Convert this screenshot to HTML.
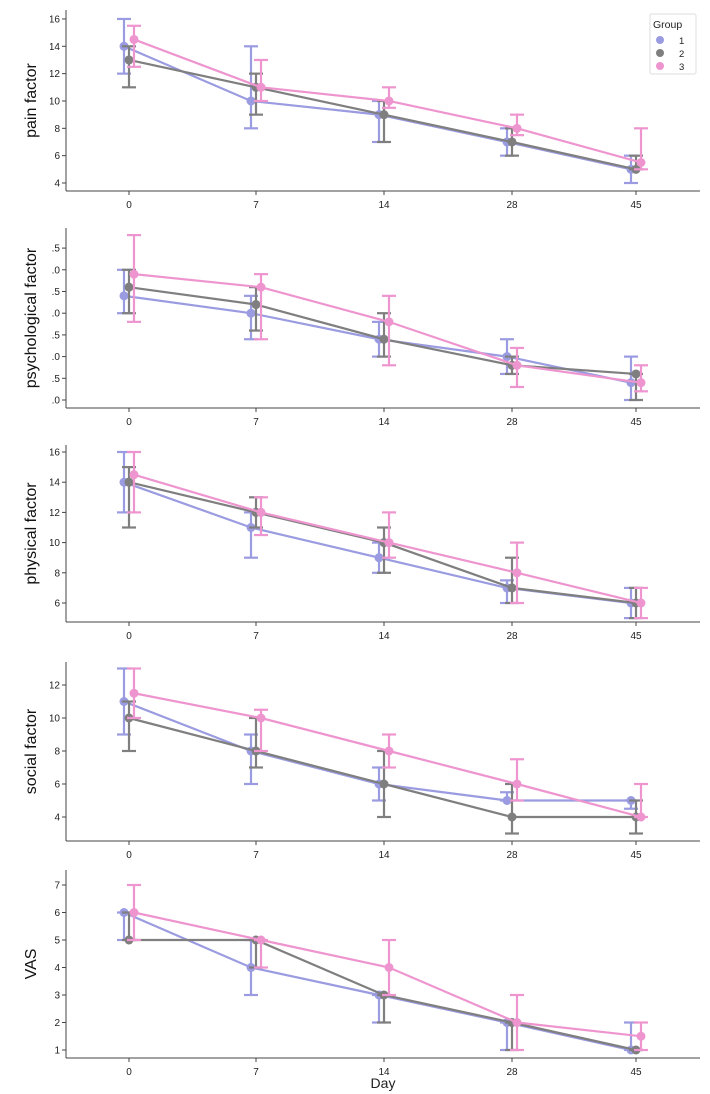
<!DOCTYPE html>
<html><head><meta charset="utf-8"><style>body{margin:0;background:#fff}svg{display:block}</style></head>
<body>
<svg id="s" width="710" height="1094" xmlns="http://www.w3.org/2000/svg" font-family="Liberation Sans, DejaVu Sans, sans-serif">
<defs><clipPath id="c"><rect x="50" y="0" width="660" height="1094"/></clipPath></defs>
<g id="g"></g>
<text x="383" y="1088" font-size="14" text-anchor="middle" fill="#222">Day</text>
<g transform="translate(650,14)">
<rect x="0" y="0" width="46" height="60" fill="#fff" stroke="#ddd" rx="2"/>
<text x="3" y="14" font-size="10.5" fill="#222">Group</text>
<circle cx="10" cy="26" r="4" fill="#9a9be0"/><text x="29" y="30" font-size="9.5" fill="#222">1</text>
<circle cx="10" cy="39" r="4" fill="#7f7f7f"/><text x="29" y="43" font-size="9.5" fill="#222">2</text>
<circle cx="10" cy="52" r="4" fill="#ee95cf"/><text x="29" y="56" font-size="9.5" fill="#222">3</text>
</g>
</svg>
<script>
var X=[129,256,384,512,636],C=["#9a9be0","#7f7f7f","#ee95cf"],D=[-5,0,5];
var P=[
{lab:"pain factor",top:10,bot:191,y0:183,v0:4,k:13.67,ticks:[[4,"4"],[6,"6"],[8,"8"],[10,"10"],[12,"12"],[14,"14"],[16,"16"]],
d:[[[14,12,16],[10,8,14],[9,7,10],[7,6,8],[5,4,6]],[[13,11,14],[11,9,12],[9,7,10],[7,6,8],[5,5,6]],[[14.5,12.5,15.5],[11,10,13],[10,9.5,11],[8,7.5,9],[5.5,5,8]]]},
{lab:"psychological factor",top:228,bot:408,y0:400,v0:0,k:43.4,ticks:[[0,".0"],[0.5,".5"],[1,".0"],[1.5,".5"],[2,".0"],[2.5,".5"],[3,".0"],[3.5,".5"]],
d:[[[2.4,2,3],[2,1.4,2.4],[1.4,1,1.8],[1,0.6,1.4],[0.4,0,1]],[[2.6,2,3],[2.2,1.6,2.6],[1.4,1,2],[0.8,0.6,1],[0.6,0,0.6]],[[2.9,1.8,3.8],[2.6,1.4,2.9],[1.8,0.8,2.4],[0.8,0.3,1.2],[0.4,0.2,0.8]]]},
{lab:"physical factor",top:445,bot:622,y0:603,v0:6,k:15.1,ticks:[[6,"6"],[8,"8"],[10,"10"],[12,"12"],[14,"14"],[16,"16"]],
d:[[[14,12,16],[11,9,12],[9,8,10],[7,6,7.5],[6,5,7]],[[14,11,15],[12,11,13],[10,8,11],[7,6,9],[6,5,7]],[[14.5,12,16],[12,10.5,13],[10,9,12],[8,6,10],[6,5,7]]]},
{lab:"social factor",top:662,bot:841,y0:817,v0:4,k:16.5,ticks:[[4,"4"],[6,"6"],[8,"8"],[10,"10"],[12,"12"]],
d:[[[11,9,13],[8,6,9],[6,5,7],[5,5,5.5],[5,4.5,5]],[[10,8,11],[8,7,10],[6,4,8],[4,3,6],[4,3,5]],[[11.5,10,13],[10,8,10.5],[8,7,9],[6,5,7.5],[4,4,6]]]},
{lab:"VAS",top:870,bot:1058,y0:1050,v0:1,k:27.5,ticks:[[1,"1"],[2,"2"],[3,"3"],[4,"4"],[5,"5"],[6,"6"],[7,"7"]],
d:[[[6,5,6],[4,3,5],[3,2,3],[2,1,2],[1,1,2]],[[5,5,6],[5,4,5],[3,2,3],[2,1,2],[1,1,1]],[[6,5,7],[5,4,5],[4,3,5],[2,1,3],[1.5,1,2]]]}
];
var s="";
P.forEach(function(p){
 var Y=function(v){return p.y0-(v-p.v0)*p.k};
 s+='<line x1="66" y1="'+p.top+'" x2="66" y2="'+p.bot+'" stroke="#444"/>';
 s+='<line x1="66" y1="'+p.bot+'" x2="700" y2="'+p.bot+'" stroke="#444"/>';
 p.ticks.forEach(function(t){var y=Y(t[0]);s+='<line x1="62" y1="'+y+'" x2="66" y2="'+y+'" stroke="#444"/><text clip-path="url(#c)" x="60" y="'+(y+3.5)+'" font-size="10" text-anchor="end" fill="#222">'+t[1]+'</text>';});
 ["0","7","14","28","45"].forEach(function(t,i){s+='<line x1="'+X[i]+'" y1="'+p.bot+'" x2="'+X[i]+'" y2="'+(p.bot+4)+'" stroke="#444"/><text x="'+X[i]+'" y="'+(p.bot+17)+'" font-size="10" text-anchor="middle" fill="#222">'+t+'</text>';});
 var cy=(p.top+p.bot)/2;
 s+='<text transform="translate(36,'+cy+') rotate(-90)" font-size="16" text-anchor="middle" fill="#111">'+p.lab+'</text>';
 p.d.forEach(function(g,gi){
  var pts=g.map(function(v,i){return (X[i]+D[gi])+','+Y(v[0])}).join(' ');
  s+='<polyline points="'+pts+'" fill="none" stroke="'+C[gi]+'" stroke-width="2.2"/>';
  g.forEach(function(v,i){var x=X[i]+D[gi],a=Y(v[1]),b=Y(v[2]);
   s+='<g stroke="'+C[gi]+'" stroke-width="2.2"><line x1="'+x+'" y1="'+a+'" x2="'+x+'" y2="'+b+'"/><line x1="'+(x-7)+'" y1="'+a+'" x2="'+(x+7)+'" y2="'+a+'"/><line x1="'+(x-7)+'" y1="'+b+'" x2="'+(x+7)+'" y2="'+b+'"/></g><circle cx="'+x+'" cy="'+Y(v[0])+'" r="4.5" fill="'+C[gi]+'"/>';});
 });
});
document.getElementById("g").innerHTML=s;
</script>
</body></html>
